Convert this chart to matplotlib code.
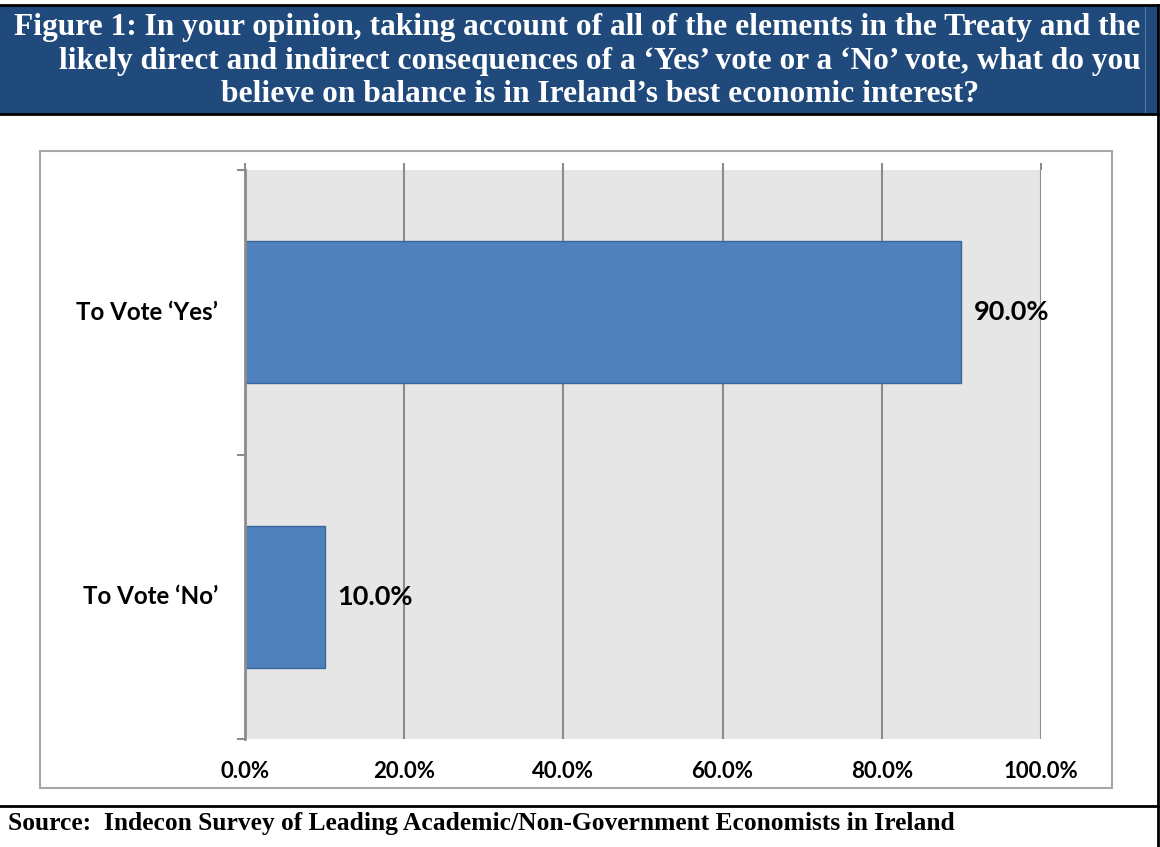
import matplotlib
matplotlib.use("Agg")
import matplotlib.pyplot as plt
from matplotlib.patches import Rectangle
from matplotlib.lines import Line2D

categories = ["To Vote \u2018Yes\u2019", "To Vote \u2018No\u2019"]
values = [90.0, 10.0]
xticks = [0, 20, 40, 60, 80, 100]
xtick_labels = ["0.0%", "20.0%", "40.0%", "60.0%", "80.0%", "100.0%"]
title_lines = [
    "Figure 1: In your opinion, taking account of all of the elements in the Treaty and the",
    "likely direct and indirect consequences of a \u2018Yes\u2019 vote or a \u2018No\u2019 vote, what do you",
    "believe on balance is in Ireland\u2019s best economic interest?",
]
source_text = "Source:  Indecon Survey of Leading Academic/Non-Government Economists in Ireland"

W, H = 1160, 847
fig = plt.figure(figsize=(W / 100, H / 100), dpi=100)

def fx(x):
    return x / W

def fy(y):
    return 1 - y / H

# Banner
fig.patches.append(Rectangle((fx(0), fy(114)), fx(1158), (114 - 6) / H,
                             transform=fig.transFigure, facecolor="#204A7C",
                             edgecolor="none", zorder=0))
fig.lines.append(Line2D([fx(0), fx(1158)], [fy(5), fy(5)], transform=fig.transFigure,
                        color="black", lw=2))
fig.lines.append(Line2D([fx(0), fx(1158)], [fy(114), fy(114)], transform=fig.transFigure,
                        color="black", lw=2))
fig.lines.append(Line2D([fx(1158), fx(1158)], [fy(5), fy(847)], transform=fig.transFigure,
                        color="black", lw=2))
fig.lines.append(Line2D([fx(1145), fx(1145)], [fy(7), fy(112)], transform=fig.transFigure,
                        color="#5A7AA6", lw=0.8))
fig.lines.append(Line2D([fx(0), fx(1158)], [fy(806), fy(806)], transform=fig.transFigure,
                        color="black", lw=2))

title_pos = [(577, 28), (600, 61), (600, 95)]
for line, (x, y) in zip(title_lines, title_pos):
    fig.text(fx(x), fy(y), line, ha="center", va="center", color="white",
             fontsize=22.6, fontweight="bold", family="Liberation Serif")

fig.text(fx(8), fy(823), source_text, ha="left", va="center", color="black",
         fontsize=18.4, fontweight="bold", family="Liberation Serif")

# Chart area box
fig.patches.append(Rectangle((fx(40), fy(788)), fx(1112 - 40), (788 - 151) / H,
                             transform=fig.transFigure, facecolor="none",
                             edgecolor="#A6A6A6", lw=1.5, zorder=1))

ax = fig.add_axes([fx(245), fy(739), fx(1041 - 245), (739 - 170) / H])
ax.set_facecolor("#E6E6E6")
ypos = list(range(len(categories)))
ax.barh(ypos, values, height=0.5, color="#4F81BD", edgecolor="#3B6699", lw=1, zorder=3)
ax.set_xlim(0, 100)
ax.set_ylim(1.5, -0.5)
ax.set_xticks(xticks)
ax.set_xticklabels(xtick_labels, fontsize=16, fontweight="bold", family="Lato")
ax.tick_params(axis="x", which="both", top=True, bottom=False, labeltop=False,
               labelbottom=True, direction="out", length=5, width=1.5, color="#8C8C8C",
               pad=11)
ax.set_yticks([-0.5, 0.5, 1.5])
ax.set_yticklabels([])
ax.tick_params(axis="y", direction="out", length=6, width=1.5, color="#8C8C8C")
for i, c in enumerate(categories):
    ax.text(-3.4, i, c, ha="right", va="center", fontsize=17.4, fontweight="bold",
            family="Lato", transform=ax.transData)
ax.grid(axis="x", color="#8C8C8C", lw=1.5, zorder=1)
for s in ["top", "right", "bottom"]:
    ax.spines[s].set_visible(False)
ax.spines["left"].set_color("#8C8C8C")
ax.spines["left"].set_linewidth(2)
ax.spines["left"].set_zorder(4)
for i, v in enumerate(values):
    ax.text(v + 1.6, i, f"{v:.1f}%", ha="left", va="center", fontsize=19.5,
            fontweight="bold", family="Lato", zorder=5)

fig.savefig("out.png", dpi=100)
